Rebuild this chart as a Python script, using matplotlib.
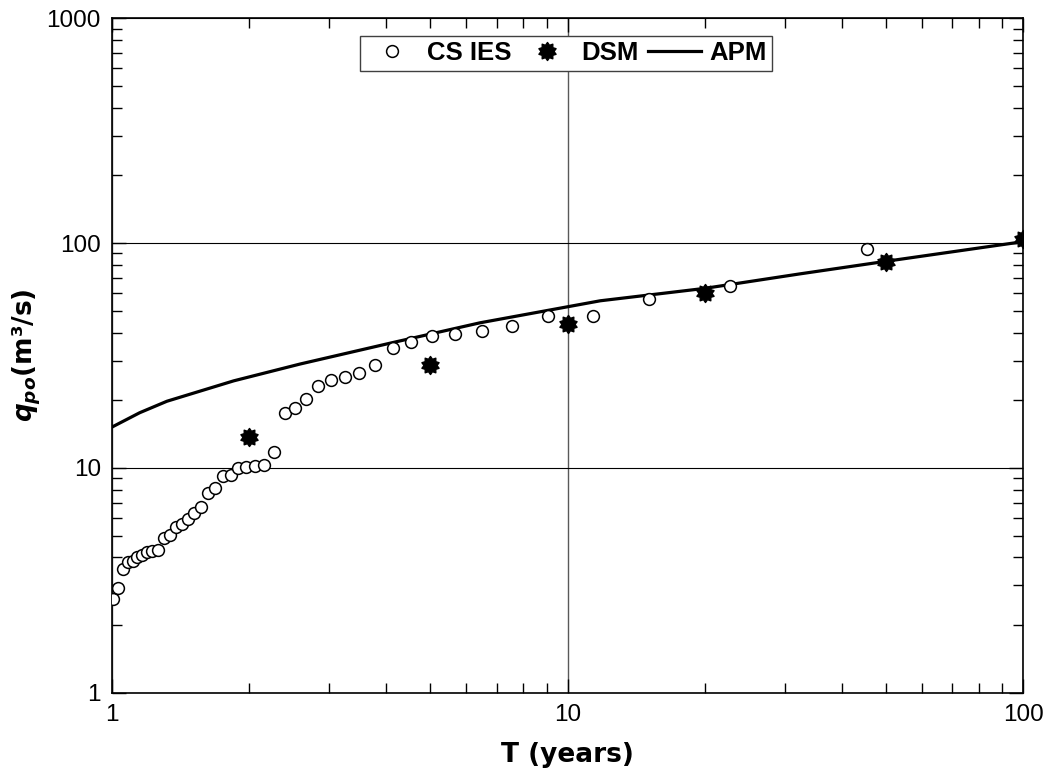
import numpy as np
import matplotlib
matplotlib.use("Agg")
import matplotlib.pyplot as plt
from matplotlib.path import Path
from matplotlib.ticker import LogLocator, NullFormatter, FixedFormatter, FixedLocator

plt.rcParams['font.family'] = ['Liberation Sans', 'DejaVu Sans']
plt.rcParams['mathtext.fontset'] = 'custom'
plt.rcParams['mathtext.it'] = 'DejaVu Sans:italic:bold'
plt.rcParams['mathtext.rm'] = 'DejaVu Sans:bold'
plt.rcParams['mathtext.bf'] = 'DejaVu Sans:bold'

# CS IES - empirical points (return period, peak flow)
cs_T = [1.007, 1.032, 1.056, 1.083, 1.110, 1.136, 1.164, 1.196, 1.226, 1.264,
        1.303, 1.341, 1.382, 1.422, 1.466, 1.516, 1.568, 1.622, 1.683, 1.750,
        1.825, 1.888, 1.969, 2.061, 2.160, 2.272, 2.398, 2.522, 2.666, 2.838,
        3.025, 3.248, 3.491, 3.780, 4.133, 4.533, 5.041, 5.662, 6.480, 7.563,
        9.076, 11.36, 15.12, 22.74, 45.39]
cs_q = [2.60, 2.91, 3.55, 3.83, 3.87, 4.00, 4.10, 4.21, 4.27, 4.31,
        4.89, 5.03, 5.48, 5.63, 5.91, 6.28, 6.72, 7.71, 8.12, 9.20,
        9.30, 10.02, 10.12, 10.20, 10.30, 11.73, 17.50, 18.41, 20.26, 23.21,
        24.60, 25.45, 26.52, 28.70, 34.25, 36.20, 38.62, 39.30, 40.77, 42.79,
        47.39, 47.53, 56.23, 64.45, 94.15]

# DSM
dsm_T = [2, 5, 10, 20, 50, 100]
dsm_q = [13.7, 28.6, 43.6, 60.3, 82.5, 104.2]

# APM
apm_T = [1, 1.15, 1.32, 1.85, 2.59, 4.13, 6.42, 10, 11.8, 20, 32.4, 50, 100]
apm_q = [15.2, 17.6, 19.8, 24.4, 29.0, 36.1, 44.2, 52.1, 55.4, 62.9, 73.0, 83.0, 101.5]

# gear-like star marker
ang = np.linspace(0, 2 * np.pi, 21)[:-1] + np.pi / 2
rad = np.where(np.arange(20) % 2 == 0, 1.0, 0.72)
verts = np.column_stack([rad * np.cos(ang), rad * np.sin(ang)])
verts = np.vstack([verts, verts[:1]])
codes = [Path.MOVETO] + [Path.LINETO] * 19 + [Path.CLOSEPOLY]
star = Path(verts, codes)

fig = plt.figure(figsize=(10.51, 7.80), dpi=100)
ax = fig.add_axes([0.1066, 0.1119, 0.8668, 0.8646])

ax.plot(cs_T, cs_q, 'o', mfc='white', mec='black', mew=1.1, ms=8.5,
        label='CS IES', zorder=3)
ax.plot(dsm_T, dsm_q, linestyle='none', marker=star, color='black',
        ms=13, label='DSM', zorder=4)
ax.plot(apm_T, apm_q, '-', color='black', lw=2.3, label='APM', zorder=2)

ax.set_xscale('log')
ax.set_yscale('log')
ax.set_xlim(1, 100)
ax.set_ylim(1, 1000)

ax.xaxis.set_major_locator(FixedLocator([1, 10, 100]))
ax.xaxis.set_major_formatter(FixedFormatter(['1', '10', '100']))
ax.yaxis.set_major_locator(FixedLocator([1, 10, 100, 1000]))
ax.yaxis.set_major_formatter(FixedFormatter(['1', '10', '100', '1000']))
ax.xaxis.set_minor_locator(LogLocator(base=10, subs=np.arange(2, 10)))
ax.yaxis.set_minor_locator(LogLocator(base=10, subs=np.arange(2, 10)))
ax.xaxis.set_minor_formatter(NullFormatter())
ax.yaxis.set_minor_formatter(NullFormatter())

ax.tick_params(which='both', direction='in', top=True, right=True, width=1.0)
ax.tick_params(which='major', length=10, labelsize=17.5, pad=8)
ax.tick_params(which='minor', length=7)
for s in ax.spines.values():
    s.set_linewidth(1.2)

ax.grid(True, which='major', axis='y', color='black', lw=0.8)
ax.grid(True, which='major', axis='x', color='0.35', lw=1.0)

ax.set_xlabel('T (years)', family='DejaVu Sans', fontweight='bold',
              fontsize=19, labelpad=12)
ax.set_ylabel(r'$q_{po}$(m³/s)', family='DejaVu Sans', fontweight='bold',
              fontsize=19)
ax.yaxis.set_label_coords(-0.076, 0.5)

leg = ax.legend(loc='upper center', bbox_to_anchor=(0.4985, 1 - 17.5 / 674.4),
                borderaxespad=0, ncol=3, frameon=True, fancybox=False,
                edgecolor='0.25', framealpha=1, columnspacing=0.35,
                handlelength=2.05, handletextpad=0.33, borderpad=0.22,
                prop={'weight': 'bold', 'size': 18.5})
leg.get_frame().set_linewidth(1.0)

fig.savefig('out.png', dpi=100)
